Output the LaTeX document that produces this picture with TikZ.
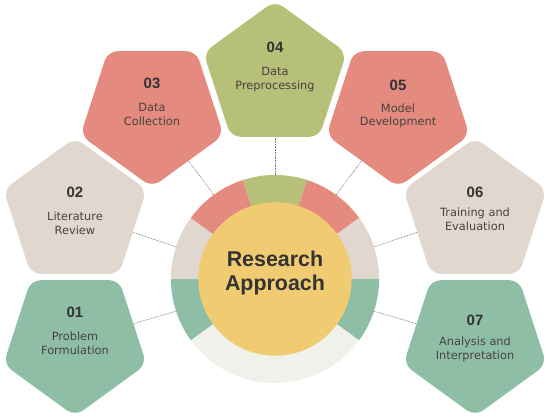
\documentclass[tikz,border=0pt]{standalone}
\usepackage{fontspec}
\setmainfont{DejaVu Sans}
\newfontfamily\headfont{Liberation Sans}
\usetikzlibrary{shapes.geometric,calc}
\definecolor{cred}{RGB}{229,138,126}
\definecolor{colive}{RGB}{183,192,121}
\definecolor{cbeige}{RGB}{224,215,206}
\definecolor{cteal}{RGB}{142,190,166}
\definecolor{cpale}{RGB}{239,241,234}
\definecolor{cyellow}{RGB}{240,203,114}
\definecolor{ctitle}{RGB}{51,51,51}
\definecolor{clabel}{RGB}{72,66,63}
\definecolor{cline}{RGB}{120,120,120}
\tikzset{
  pent/.style={regular polygon, regular polygon sides=5, minimum size=151, inner sep=0pt, rounded corners=10pt, draw=none},
  pentdown/.style={pent, shape border rotate=180},
  numtxt/.style={font=\headfont\bfseries\fontsize{15}{17}\selectfont, text=ctitle, inner sep=0pt},
  labtxt/.style={font=\fontsize{11.4}{13.6}\selectfont, text=clabel, align=center, inner sep=0pt},
  conn/.style={draw=cline, line width=0.6pt, dash pattern=on 0.8pt off 0.8pt},
}
\begin{document}
\begin{tikzpicture}[x=1bp,y=1bp]
\useasboundingbox (0,0) rectangle (550,419);
\fill[white] (0,0) rectangle (550,419);
\coordinate (c) at (275,140);
% ring
\fill[cpale] (c) circle[radius=104];
\fill[cteal] (c) -- ++(180:104) arc[start angle=180,end angle=216,radius=104] -- cycle;
\fill[cbeige] (c) -- ++(144:104) arc[start angle=144,end angle=180,radius=104] -- cycle;
\fill[cred] (c) -- ++(108:104) arc[start angle=108,end angle=144,radius=104] -- cycle;
\fill[colive] (c) -- ++(72:104) arc[start angle=72,end angle=108,radius=104] -- cycle;
\fill[cred] (c) -- ++(36:104) arc[start angle=36,end angle=72,radius=104] -- cycle;
\fill[cbeige] (c) -- ++(0:104) arc[start angle=0,end angle=36,radius=104] -- cycle;
\fill[cteal] (c) -- ++(-36:104) arc[start angle=-36,end angle=0,radius=104] -- cycle;
\node[circle, fill=cyellow, minimum size=154, inner sep=0pt] (core) at (c) {};
\node[font=\headfont\bfseries\fontsize{21.5}{24}\selectfont, text=ctitle, align=center, inner sep=0pt] (title) at (275,146) {Research\\Approach};
% pentagons
\node[pentdown, fill=cteal] (p1) at (75,78) {};
\node[pent, fill=cbeige] (p2) at (75,206) {};
\node[pentdown, fill=cred] (p3) at (152,307) {};
\node[pent, fill=colive] (p4) at (275,343) {};
\node[pentdown, fill=cred] (p5) at (398,307) {};
\node[pent, fill=cbeige] (p6) at (475,206) {};
\node[pentdown, fill=cteal] (p7) at (475,78) {};
% ring anchor points
\coordinate (r1) at ($(c)+(198:104)$);
\coordinate (r2) at ($(c)+(162:104)$);
\coordinate (r3) at ($(c)+(126:104)$);
\coordinate (r4) at ($(c)+(90:104)$);
\coordinate (r5) at ($(c)+(54:104)$);
\coordinate (r6) at ($(c)+(18:104)$);
\coordinate (r7) at ($(c)+(342:104)$);
\draw[conn] (r1) -- (p1);
\draw[conn] (r2) -- (p2);
\draw[conn] (r3) -- (p3);
\draw[conn] (r4) -- (p4);
\draw[conn] (r5) -- (p5);
\draw[conn] (r6) -- (p6);
\draw[conn] (r7) -- (p7);
% texts
\node[numtxt] (n1) at (75,107) {01};
\node[labtxt] (l1) at (75,76) {Problem\\Formulation};
\node[numtxt] (n2) at (75,227) {02};
\node[labtxt] (l2) at (75,195.5) {Literature\\Review};
\node[numtxt] (n3) at (152,336) {03};
\node[labtxt] (l3) at (152,304.5) {Data\\Collection};
\node[numtxt] (n4) at (275,372) {04};
\node[labtxt] (l4) at (275,339.5) {Data\\Preprocessing};
\node[numtxt] (n5) at (398,334) {05};
\node[labtxt] (l5) at (398,303) {Model\\Development};
\node[numtxt] (n6) at (475,227) {06};
\node[labtxt] (l6) at (475,199.5) {Training and\\Evaluation};
\node[numtxt] (n7) at (475,99) {07};
\node[labtxt] (l7) at (475,69.5) {Analysis and\\Interpretation};
\end{tikzpicture}
\end{document}
